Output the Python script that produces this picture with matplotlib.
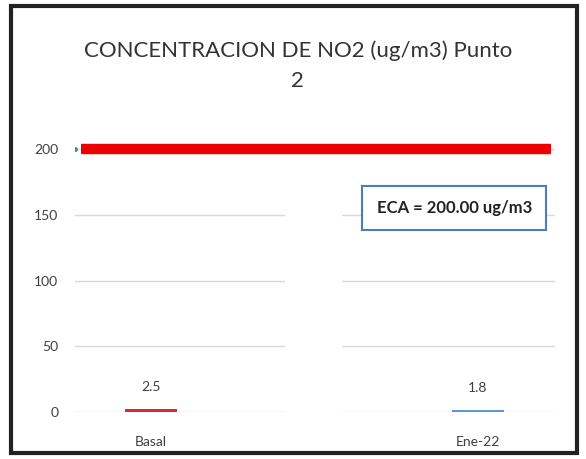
import matplotlib.pyplot as plt
from matplotlib.patches import Rectangle

categorias = ['Basal', 'Ene-22']
valores = [2.5, 1.8]
colores = ['#d42a3c', '#5b9bd5']
eca = 200.0
yticks = [0, 50, 100, 150, 200]

plt.rcParams['font.family'] = ['Lato', 'DejaVu Sans']

fig = plt.figure(figsize=(5.86, 4.59), dpi=100)
ax = fig.add_axes([0.128, 0.1024, 0.819, 0.6013])

x = range(len(categorias))
bars = ax.bar(x, valores, width=0.16, color=colores, zorder=3)
for b, v in zip(bars, valores):
    ax.text(b.get_x() + b.get_width() / 2, v + 12, f'{v:g}', ha='center',
            va='bottom', fontsize=10, color='#404040')

# linea del ECA
ax.hlines(eca, -0.215, 1.225, color='#ee0000', linewidth=7.5, zorder=4)
ax.plot([-0.232], [eca], 'o', color='#3a86b8', markersize=2.5, zorder=5)

ax.set_xlim(-0.232, 1.236)
ax.set_ylim(0, 210)
ax.set_yticks(yticks)
ax.set_xticks(list(x))
ax.set_xticklabels(categorias)
ax.tick_params(axis='y', length=0, pad=12, labelsize=10, labelcolor='#404040')
ax.tick_params(axis='x', length=0, pad=17, labelsize=10, labelcolor='#404040')
ax.grid(axis='y', color='#d9d9d9', linewidth=1, zorder=0)
for s in ax.spines.values():
    s.set_visible(False)

ax.text(0.79, 0.739, 'ECA = 200.00 ug/m3', transform=ax.transAxes,
        ha='center', va='center', fontsize=12, fontweight='bold', color='#222222',
        bbox=dict(boxstyle='square,pad=0.85', fc='white', ec='#4a7cc0', lw=1.5),
        zorder=6)

fig.text(0.508, 0.857, 'CONCENTRACION DE NO2 (ug/m3) Punto\n2', ha='center',
         va='center', fontsize=16, color='#333333', linespacing=1.6)

# hueco blanco del escaneo
fig.patches.append(Rectangle((0.487, 0.0), 0.097, 0.555, transform=fig.transFigure,
                             fc='white', ec='none', zorder=10))
# marco
fig.patches.append(Rectangle((0.019, 0.013), 0.965, 0.975, transform=fig.transFigure,
                             fill=False, ec='#222222', lw=3, zorder=11))

fig.savefig('out.png', dpi=100)
